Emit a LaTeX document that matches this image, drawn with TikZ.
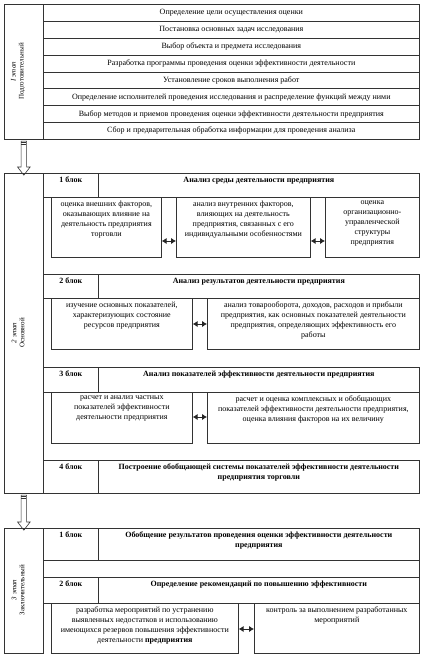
\documentclass[tikz,border=0pt]{standalone}
\usepackage{fontspec}
\setmainfont{Liberation Serif}
\usetikzlibrary{positioning}
\usetikzlibrary{calc}
\usetikzlibrary{arrows.meta}
\usetikzlibrary{shapes.arrows}

\begin{document}
\begin{tikzpicture}[
        x=1pt, y=-1pt,
        cell/.style = {draw=black!80, line width=0.7pt, inner sep=0pt, anchor=north west},
        txt/.style = {font=\fontsize{8}{10}\selectfont, align=center, inner sep=1pt},
        hdr/.style = {txt, font=\fontsize{8}{10}\selectfont\bfseries},
        stg/.style = {font=\fontsize{7}{8}\selectfont, align=center, rotate=90, inner sep=0pt},
        link/.style = {{Latex[length=5pt,width=6.5pt]}-{Latex[length=5pt,width=6.5pt]}, line width=1pt, black!85},
        flow/.style = {single arrow, draw=black!80, line width=0.6pt, shape border rotate=270,
            inner sep=2.5pt, minimum width=12pt, single arrow head extend=3.5pt, single arrow tip angle=75}
    ]
    \useasboundingbox (0,0) rectangle (426,659);

    % stage 1
    \node[cell, minimum width=39pt, minimum height=135pt] (st1) at (4,4) {};
    \node[stg] (l1) at (18,71.5) {{\itshape I этап}\\Подготовительный};
    \foreach \t [count=\i] in {
        {Определение цели осуществления оценки},
        {Постановка основных задач исследования},
        {Выбор объекта и предмета исследования},
        {Разработка программы проведения оценки эффективности деятельности},
        {Установление сроков выполнения работ},
        {Определение исполнителей проведения исследования и распределение функций между ними},
        {Выбор методов и приемов проведения оценки эффективности деятельности предприятия},
        {Сбор и предварительная обработка информации для проведения анализа}}
        \node[cell, txt, minimum width=376pt, minimum height=16.875pt] (r\i) at (43,{4+(\i-1)*16.875}) {\t};

    % stage 2
    \node[cell, minimum width=39pt, minimum height=320pt] (st2) at (4,173) {};
    \node[stg] (l2) at (18,333) {{\itshape 2 этап}\\Основной};
    \node[flow, minimum height=34pt] (a1) at ($(st1.south)!0.5!(st2.north)$) {};
    \draw[black!80, line width=0.6pt] ($(a1.tail)+(-2.5,1.5)$) -- +(5,0) ($(a1.tail)+(-2.5,3)$) -- +(5,0);

    % block 1
    \node[cell, minimum width=55pt, minimum height=24pt] (n21) at (43,173) {};
    \node[cell, minimum width=321pt, minimum height=24pt] (t21) at (98,173) {};
    \node[hdr, below=3pt of n21.north] (h21n) {1 блок};
    \node[hdr, below=3pt of t21.north] (h21t) {Анализ среды деятельности предприятия};
    \node[cell, minimum width=110pt, minimum height=60pt] (b21a) at (51,197) {};
    \node[cell, minimum width=134pt, minimum height=60pt] (b21b) at (176,197) {};
    \node[cell, minimum width=94pt, minimum height=60pt] (b21c) at (325,197) {};
    \node[txt, below=3pt of b21a.north] (x21a) {оценка внешних факторов,\\оказывающих влияние на\\деятельность предприятия\\торговли};
    \node[txt, below=3pt of b21b.north] (x21b) {анализ внутренних факторов,\\влияющих на деятельность\\предприятия, связанных с его\\индивидуальными особенностями};
    \node[txt, below=3pt of b21c.north] (x21c) {оценка\\организационно-\\управленческой\\структуры\\предприятия};
    \draw[link] (b21a.east |- 0,241) -- (b21b.west |- 0,241);
    \draw[link] (b21b.east |- 0,241) -- (b21c.west |- 0,241);

    % block 2
    \node[cell, minimum width=55pt, minimum height=24pt] (n22) at (43,274) {};
    \node[cell, minimum width=321pt, minimum height=24pt] (t22) at (98,274) {};
    \node[hdr, below=3pt of n22.north] (h22n) {2 блок};
    \node[hdr, below=3pt of t22.north] (h22t) {Анализ результатов деятельности предприятия};
    \node[cell, minimum width=141pt, minimum height=51pt] (b22a) at (51,298) {};
    \node[cell, minimum width=212pt, minimum height=51pt] (b22b) at (207,298) {};
    \node[txt, below=3pt of b22a.north] (x22a) {изучение основных показателей,\\характеризующих состояние\\ресурсов предприятия};
    \node[txt, below=3pt of b22b.north] (x22b) {анализ товарооборота, доходов, расходов и прибыли\\предприятия, как основных показателей деятельности\\предприятия, определяющих эффективность его\\работы};
    \draw[link] (b22a.east |- 0,324) -- (b22b.west |- 0,324);

    % block 3
    \node[cell, minimum width=55pt, minimum height=25pt] (n23) at (43,367) {};
    \node[cell, minimum width=321pt, minimum height=25pt] (t23) at (98,367) {};
    \node[hdr, below=3pt of n23.north] (h23n) {3 блок};
    \node[hdr, below=3pt of t23.north] (h23t) {Анализ показателей эффективности деятельности предприятия};
    \node[cell, minimum width=141pt, minimum height=51pt] (b23a) at (51,392) {};
    \node[cell, minimum width=212pt, minimum height=51pt] (b23b) at (207,392) {};
    \node[txt, below=3pt of b23a.north] (x23a) {расчет и анализ частных\\показателей эффективности\\деятельности предприятия};
    \node[txt, below=3pt of b23b.north] (x23b) {расчет и оценка комплексных и обобщающих\\показателей эффективности деятельности предприятия,\\оценка влияния факторов на их величину};
    \draw[link] (b23a.east |- 0,417) -- (b23b.west |- 0,417);

    % block 4
    \node[cell, minimum width=55pt, minimum height=33pt] (n24) at (43,460) {};
    \node[cell, minimum width=321pt, minimum height=33pt] (t24) at (98,460) {};
    \node[hdr, below=3pt of n24.north] (h24n) {4 блок};
    \node[hdr, below=3pt of t24.north] (h24t) {Построение обобщающей системы показателей эффективности деятельности\\предприятия торговли};

    % stage 3
    \node[cell, minimum width=39pt, minimum height=125pt] (st3) at (4,528) {};
    \node[stg] (l3) at (18,590) {{\itshape 3 этап}\\Заключительный};
    \node[flow, minimum height=35pt] (a2) at ($(st2.south)!0.5!(st3.north)$) {};
    \draw[black!80, line width=0.6pt] ($(a2.tail)+(-2.5,1.5)$) -- +(5,0) ($(a2.tail)+(-2.5,3)$) -- +(5,0);

    \node[cell, minimum width=55pt, minimum height=32pt] (n31) at (43,528) {};
    \node[cell, minimum width=321pt, minimum height=32pt] (t31) at (98,528) {};
    \node[hdr, below=3pt of n31.north] (h31n) {1 блок};
    \node[hdr, below=3pt of t31.north] (h31t) {Обобщение результатов проведения оценки эффективности деятельности\\предприятия};
    \node[cell, minimum width=376pt, minimum height=17pt] (g31) at (43,560) {};
    \node[cell, minimum width=55pt, minimum height=26pt] (n32) at (43,577) {};
    \node[cell, minimum width=321pt, minimum height=26pt] (t32) at (98,577) {};
    \node[hdr, below=3pt of n32.north] (h32n) {2 блок};
    \node[hdr, below=3pt of t32.north] (h32t) {Определение рекомендаций по повышению эффективности};
    \node[cell, minimum width=187pt, minimum height=50pt] (b32a) at (51,603) {};
    \node[cell, minimum width=165pt, minimum height=50pt] (b32b) at (254,603) {};
    \node[txt, below=3pt of b32a.north] (x32a) {разработка мероприятий по устранению\\выявленных недостатков и использованию\\имеющихся резервов повышения эффективности\\деятельности \textbf{предприятия}};
    \node[txt, below=3pt of b32b.north] (x32b) {контроль за выполнением разработанных\\мероприятий};
    \draw[link] (b32a.east |- 0,629) -- (b32b.west |- 0,629);
\end{tikzpicture}
\end{document}
